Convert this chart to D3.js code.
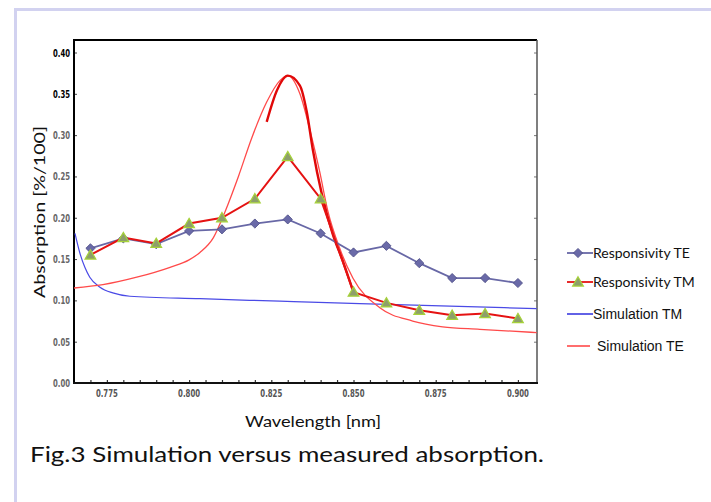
<!DOCTYPE html>
<html>
<head>
<meta charset="utf-8">
<script src="https://cdn.jsdelivr.net/npm/d3@7"></script>
<style>
  body { margin: 0; background: #fff; }
  svg { display: block; }
</style>
</head>
<body>
<script>
//measured wavelengths [um] shown on the axis as nm
var wavelengths = [0.77, 0.78, 0.79, 0.80, 0.81, 0.82, 0.83, 0.84, 0.85, 0.86, 0.87, 0.88, 0.89, 0.90];
var respTE = [0.163, 0.175, 0.168, 0.184, 0.186, 0.193, 0.198, 0.181, 0.158, 0.166, 0.145, 0.127, 0.127, 0.121];
var respTM = [0.155, 0.176, 0.169, 0.193, 0.200, 0.223, 0.274, 0.223, 0.110, 0.097, 0.088, 0.082, 0.084, 0.078];

//simulation curves
var simTMx = [0.7653, 0.7668, 0.7683, 0.7698, 0.7729, 0.7768, 0.782, 0.8033, 0.8276, 0.8519, 0.8793, 0.9057];
var simTMy = [0.181, 0.157, 0.140, 0.128, 0.116, 0.109, 0.105, 0.102, 0.099, 0.096, 0.093, 0.090];
var simTEx = [0.765, 0.7738, 0.7841, 0.7942, 0.800, 0.8033, 0.8074, 0.811, 0.815, 0.819, 0.8236, 0.8276, 0.830, 0.8337, 0.8367, 0.8397, 0.8422, 0.8458, 0.8498, 0.858, 0.868, 0.8771, 0.8884, 0.9057];
var simTEy = [0.115, 0.119, 0.128, 0.140, 0.149, 0.158, 0.176, 0.208, 0.250, 0.296, 0.340, 0.366, 0.372, 0.350, 0.307, 0.256, 0.208, 0.163, 0.127, 0.091, 0.075, 0.068, 0.065, 0.061];
//the thick stroke drawn over the peak
var peakX = [0.8236, 0.8267, 0.830, 0.8337, 0.8358, 0.8376, 0.8404, 0.8437, 0.8467, 0.8498];
var peakY = [0.316, 0.354, 0.372, 0.360, 0.328, 0.283, 0.228, 0.180, 0.148, 0.112];

var yTicks = [0, 0.05, 0.10, 0.15, 0.20, 0.25, 0.30, 0.35, 0.40];
var xTicks = [0.775, 0.800, 0.825, 0.850, 0.875, 0.900];
var legendNames = ["Responsivity TE", "Responsivity TM", "Simulation TM", "Simulation TE"];

var width = 711, height = 502;
var plotLeft = 74, plotRight = 537, plotTop = 40, plotBottom = 383;

var svg = d3.select("body").append("svg")
    .attr("width", width)
    .attr("height", height);

//page frame
svg.append("line").attr("x1", 14).attr("x2", width).attr("y1", 9.5).attr("y2", 9.5)
    .attr("stroke", "#d2d2f0").attr("stroke-width", 3);
svg.append("line").attr("x1", 15.5).attr("x2", 15.5).attr("y1", 8).attr("y2", height)
    .attr("stroke", "#d2d2f0").attr("stroke-width", 3);

var x = d3.scaleLinear().domain([0.765, 0.9058]).range([plotLeft, plotRight]);
var y = d3.scaleLinear().domain([0, 0.40]).range([plotBottom, 52.5]);

svg.append("clipPath").attr("id", "plot")
    .append("rect").attr("x", plotLeft).attr("y", plotTop)
    .attr("width", plotRight - plotLeft).attr("height", plotBottom - plotTop);

//minor ticks on the bottom axis (inside)
var minor = d3.range(0, 29).map(function(i){ return 0.765 + 0.005 * i; })
    .filter(function(v){ return v > 0.766 && v < 0.905; });
var xAxis = d3.axisBottom(x).tickValues(minor).tickSize(-3).tickFormat("");
svg.append("g").attr("transform", "translate(0," + plotBottom + ")").call(xAxis)
    .call(function(g){ g.select(".domain").remove(); })
    .selectAll("line").attr("stroke", "#333").attr("stroke-width", 1.2);

var yAxis = d3.axisLeft(y).tickValues(yTicks).tickSize(-3).tickFormat("");
svg.append("g").attr("transform", "translate(" + plotLeft + ",0)").call(yAxis)
    .call(function(g){ g.select(".domain").remove(); })
    .selectAll("line").attr("stroke", "#444");
var yAxisR = d3.axisRight(y).tickValues(yTicks).tickSize(-3).tickFormat("");
svg.append("g").attr("transform", "translate(" + plotRight + ",0)").call(yAxisR)
    .call(function(g){ g.select(".domain").remove(); })
    .selectAll("line").attr("stroke", "#777");

//plot box
svg.append("path")
    .attr("d", "M" + plotLeft + "," + plotBottom + "V" + plotTop + "H" + plotRight)
    .attr("fill", "none").attr("stroke", "#000").attr("stroke-width", 2);
svg.append("line").attr("x1", plotRight).attr("x2", plotRight).attr("y1", plotTop).attr("y2", plotBottom)
    .attr("stroke", "#555").attr("stroke-width", 1.5);
svg.append("line").attr("x1", plotLeft - 1).attr("x2", plotRight + 1).attr("y1", plotBottom).attr("y2", plotBottom)
    .attr("stroke", "#111").attr("stroke-width", 2);

//tick labels
svg.selectAll(".ylab").data(yTicks).enter().append("text")
    .attr("class", "ylab")
    .attr("x", 70).attr("y", function(d){ return y(d) + 4; })
    .attr("text-anchor", "end")
    .attr("textLength", 17).attr("lengthAdjust", "spacingAndGlyphs")
    .style("font-family", "'Liberation Sans Narrow', 'DejaVu Sans Condensed', sans-serif")
    .style("font-weight", "bold").style("font-size", "11px")
    .attr("fill", function(d){ return d >= 0.35 ? "#000" : "#666"; })
    .text(function(d){ return d3.format(".2f")(d); });

svg.selectAll(".xlab").data(xTicks).enter().append("text")
    .attr("class", "xlab")
    .attr("x", function(d){ return x(d) - 11; }).attr("y", 397)
    .attr("textLength", 22).attr("lengthAdjust", "spacingAndGlyphs")
    .style("font-family", "'Liberation Sans Narrow', 'DejaVu Sans Condensed', sans-serif")
    .style("font-weight", "bold").style("font-size", "11px")
    .attr("fill", "#555")
    .text(function(d){ return d3.format(".3f")(d); });

//axis titles
svg.append("text")
    .attr("transform", "translate(45,212) rotate(-90)")
    .attr("text-anchor", "middle")
    .style("font-family", "Lato, sans-serif").style("font-size", "16px")
    .attr("textLength", 172).attr("lengthAdjust", "spacingAndGlyphs")
    .attr("fill", "#111")
    .text("Absorption  [%/100]");

svg.append("text")
    .attr("x", 313).attr("y", 427)
    .attr("text-anchor", "middle")
    .style("font-family", "Lato, sans-serif").style("font-size", "16px")
    .attr("textLength", 136).attr("lengthAdjust", "spacingAndGlyphs")
    .attr("fill", "#111")
    .text("Wavelength [nm]");

svg.append("text")
    .attr("x", 30).attr("y", 462)
    .style("font-family", "Lato, sans-serif").style("font-size", "22px")
    .attr("textLength", 514).attr("lengthAdjust", "spacingAndGlyphs")
    .attr("fill", "#111")
    .text("Fig.3 Simulation versus measured absorption.");

//curves
var plot = svg.append("g").attr("clip-path", "url(#plot)");
var curve = d3.line()
    .x(function(d){ return x(d[0]); })
    .y(function(d){ return y(d[1]); })
    .curve(d3.curveMonotoneX);
var straight = d3.line()
    .x(function(d){ return x(d[0]); })
    .y(function(d){ return y(d[1]); });

plot.append("path").datum(d3.zip(simTMx, simTMy))
    .attr("d", curve).attr("fill", "none")
    .attr("stroke", "#4a4ae6").attr("stroke-width", 1.2);
plot.append("path").datum(d3.zip(simTEx, simTEy))
    .attr("d", curve).attr("fill", "none")
    .attr("stroke", "#ff4a4a").attr("stroke-width", 1.3);
plot.append("path").datum(d3.zip(peakX, peakY))
    .attr("d", curve).attr("fill", "none")
    .attr("stroke", "#e00808").attr("stroke-width", 2.4);

var teData = d3.zip(wavelengths, respTE);
var tmData = d3.zip(wavelengths, respTM);

plot.append("path").datum(teData)
    .attr("d", straight).attr("fill", "none")
    .attr("stroke", "#6868a6").attr("stroke-width", 1.8);
plot.append("path").datum(tmData)
    .attr("d", straight).attr("fill", "none")
    .attr("stroke", "#e51212").attr("stroke-width", 2);

var diamond = d3.symbol(d3.symbolSquare, 42);
var triangle = d3.symbol(d3.symbolTriangle, 50);

plot.selectAll(".te").data(teData).enter().append("path")
    .attr("class", "te")
    .attr("d", diamond)
    .attr("transform", function(d){ return "translate(" + x(d[0]) + "," + y(d[1]) + ") rotate(45)"; })
    .attr("fill", "#6a6aa8").attr("stroke", "#4e4e86").attr("stroke-width", 0.8);

plot.selectAll(".tm").data(tmData).enter().append("path")
    .attr("class", "tm")
    .attr("d", triangle)
    .attr("transform", function(d){ return "translate(" + x(d[0]) + "," + (y(d[1]) + 1) + ")"; })
    .attr("fill", "#8d9f6a").attr("stroke", "#a6d23a").attr("stroke-width", 1.2);

//legend
var legendY = [253, 282, 314, 346];
var legend = svg.selectAll(".legend").data(legendNames).enter().append("g")
    .attr("class", "legend")
    .attr("transform", function(d, i){ return "translate(0," + legendY[i] + ")"; });

legend.append("line")
    .attr("x1", 567).attr("x2", function(d, i){ return i == 3 ? 590 : 593; })
    .attr("stroke", function(d, i){ return ["#6868a6", "#e51212", "#3a3ae0", "#ff4a4a"][i]; })
    .attr("stroke-width", function(d, i){ return i < 2 ? 1.8 : 1.6; });

legend.filter(function(d, i){ return i == 0; }).append("path")
    .attr("d", diamond).attr("transform", "translate(578,0) rotate(45)")
    .attr("fill", "#6a6aa8").attr("stroke", "#4e4e86").attr("stroke-width", 0.8);
legend.filter(function(d, i){ return i == 1; }).append("path")
    .attr("d", triangle).attr("transform", "translate(578,1)")
    .attr("fill", "#8d9f6a").attr("stroke", "#a6d23a").attr("stroke-width", 1.2);

legend.append("text")
    .attr("x", function(d, i){ return i == 3 ? 597 : 593; })
    .attr("y", 5)
    .style("font-family", function(d, i){ return i < 2 ? "Lato, sans-serif" : "'Liberation Sans', Arial, sans-serif"; })
    .style("font-size", "14px")
    .attr("fill", "#111")
    .text(function(d){ return d; });
</script>
</body>
</html>
